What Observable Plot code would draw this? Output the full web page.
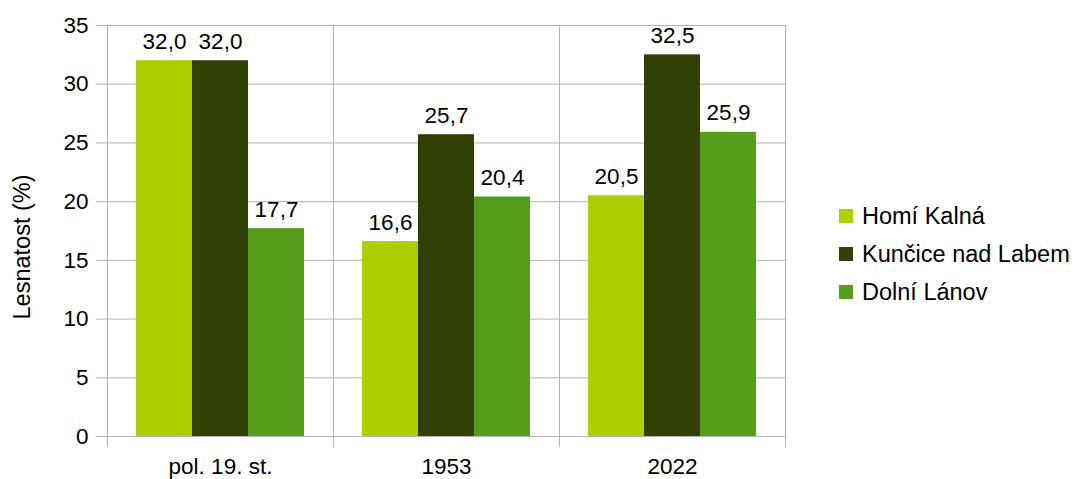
<!DOCTYPE html>
<html>
<head>
<meta charset="utf-8">
<script src="https://cdn.jsdelivr.net/npm/d3@7"></script>
<script src="https://cdn.jsdelivr.net/npm/@observablehq/plot@0.6"></script>
<style>
  html, body { margin: 0; padding: 0; background: #fff; }
  body { font-family: "Liberation Sans", Arial, sans-serif; }
  #wrap { position: relative; width: 1079px; height: 479px; overflow: hidden; }
  #ylabel { position: absolute; left: 23px; top: 247px; transform: translate(-50%, -50%) rotate(-90deg); font-size: 23.5px; white-space: nowrap; color: #000; line-height: 1; }
  #legend { position: absolute; left: 839px; top: 197px; font-size: 23.5px; color: #000; }
  #legend .row { display: flex; align-items: center; height: 38px; }
  #legend .sw { width: 14px; height: 14px; margin-right: 9px; }
</style>
</head>
<body>
<div id="wrap">
  <div id="chart"></div>
  <div id="ylabel">Lesnatost (%)</div>
  <div id="legend"></div>
</div>
<script>
const categories = ["pol. 19. st.", "1953", "2022"];
const series = ["Homí Kalná", "Kunčice nad Labem", "Dolní Lánov"];
const colors = ["#aecf00", "#314004", "#579d1c"];
const valuesHorni = [32.0, 16.6, 20.5];
const valuesKuncice = [32.0, 25.7, 32.5];
const valuesDolni = [17.7, 20.4, 25.9];
const yTicks = [0, 5, 10, 15, 20, 25, 30, 35];

const seriesValues = [valuesHorni, valuesKuncice, valuesDolni];
const data = [];
categories.forEach((c, i) => {
  series.forEach((s, j) => data.push({cat: c, series: s, value: seriesValues[j][i]}));
});

const fmt = v => v.toFixed(1).replace(".", ",");

const plot = Plot.plot({
  width: 1079,
  height: 479,
  marginLeft: 107,
  marginRight: 294,
  marginTop: 25,
  marginBottom: 43,
  style: {fontFamily: "Liberation Sans, Arial, sans-serif", fontSize: "22.5px", color: "#000", background: "#fff", overflow: "visible"},
  fx: {domain: categories, padding: 0, label: null},
  x: {domain: series, paddingInner: 0, paddingOuter: 0.5, axis: null},
  y: {domain: [0, 35], label: null},
  color: {domain: series, range: colors},
  marks: [
    Plot.ruleY(yTicks, {stroke: "#b3b3b3", strokeWidth: 1}),
    Plot.frame({anchor: "left", stroke: "#b3b3b3", insetBottom: -10}),
    Plot.frame({anchor: "right", stroke: "#b3b3b3", insetBottom: -10}),
    Plot.barY(data, {fx: "cat", x: "series", y: "value", fill: "series"}),
    Plot.text(data, {fx: "cat", x: "series", y: "value", text: d => fmt(d.value), lineAnchor: "bottom", dy: -12, fontSize: 22.5, fill: "#000"}),
    Plot.axisY({ticks: yTicks, tickSize: 11, tickPadding: 8, stroke: "#b3b3b3", fontSize: 22.5, label: null, tickFormat: d => String(d)}),
    Plot.axisFx({anchor: "bottom", tickSize: 0, tickPadding: 22, fontSize: 22.5, label: null})
  ]
});
document.getElementById("chart").appendChild(plot);

const legend = document.getElementById("legend");
series.forEach((s, i) => {
  const row = document.createElement("div");
  row.className = "row";
  const sw = document.createElement("div");
  sw.className = "sw";
  sw.style.background = colors[i];
  const t = document.createElement("span");
  t.textContent = s;
  row.appendChild(sw);
  row.appendChild(t);
  legend.appendChild(row);
});
</script>
</body>
</html>
